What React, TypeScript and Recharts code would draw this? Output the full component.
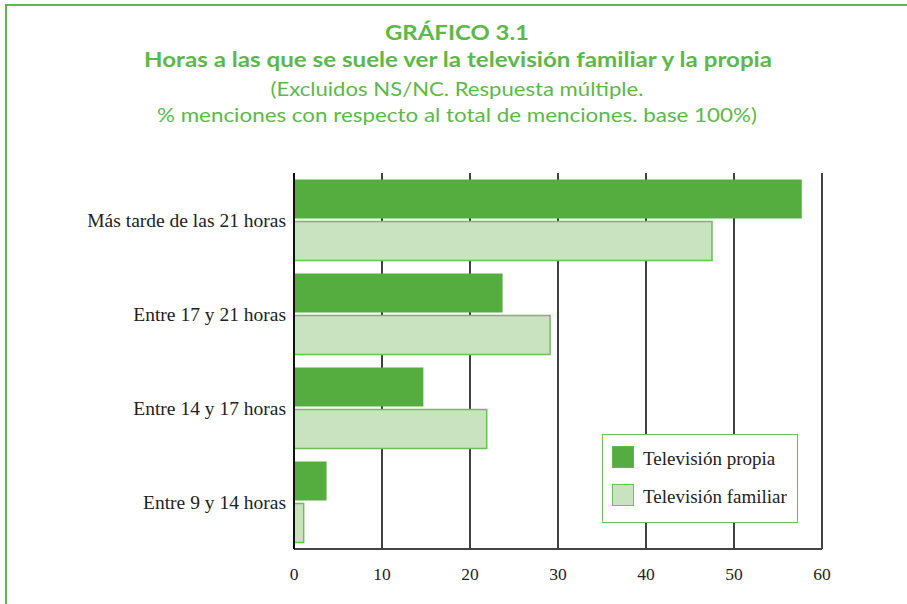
import React from 'react';
import { BarChart, Bar, XAxis, YAxis, CartesianGrid, Legend } from 'recharts';

const franjas = ['Más tarde de las 21 horas', 'Entre 17 y 21 horas', 'Entre 14 y 17 horas', 'Entre 9 y 14 horas'];
const tvPropia = [57.7, 23.7, 14.7, 3.7];
const tvFamiliar = [47.5, 29.1, 21.9, 1.1];
const xTicks = [0, 10, 20, 30, 40, 50, 60];

const GREEN = '#5cb849';
const DARK = '#55ad40';
const LIGHT = '#c9e2c0';
const LIGHT_EDGE = '#6cc05a';
const SERIF = '"Liberation Serif", "Times New Roman", serif';
const SANS = 'Lato, "Open Sans", sans-serif';

const data = franjas.map((f, i) => ({ franja: f, propia: tvPropia[i], familiar: tvFamiliar[i] }));

const seriesOrder = ['propia', 'familiar'];
const swatch: Record<string, { fill: string; stroke: string }> = {
  propia: { fill: DARK, stroke: '#62b84f' },
  familiar: { fill: LIGHT, stroke: LIGHT_EDGE },
};

const LegendBox = (props: any) => {
  const items = [...(props.payload || [])].sort(
    (a: any, b: any) => seriesOrder.indexOf(a.dataKey) - seriesOrder.indexOf(b.dataKey)
  );
  return (
    <div style={{ width: 196, height: 89, border: `1.5px solid ${LIGHT_EDGE}`, background: '#fff', boxSizing: 'border-box', padding: '11px 0 0 9px' }}>
      {items.map((it: any, i: number) => {
        const s = swatch[it.dataKey] || { fill: it.color, stroke: it.color };
        return (
          <div key={i} style={{ display: 'flex', alignItems: 'center', height: 22, marginBottom: 16 }}>
            <div style={{ width: 22, height: 22, background: s.fill, border: `1.5px solid ${s.stroke}`, boxSizing: 'border-box', flexShrink: 0 }} />
            <span style={{ fontFamily: SERIF, fontSize: 19, color: '#222', marginLeft: 9, marginTop: 3, whiteSpace: 'nowrap' }}>{it.value}</span>
          </div>
        );
      })}
    </div>
  );
};

export default function App() {
  return (
    <div style={{ position: 'absolute', left: 0, top: 0, width: 907, height: 604, background: '#fff', overflow: 'hidden' }}>
      <div style={{ position: 'absolute', left: 5, top: 4, width: 950, height: 700, borderTop: `2px solid ${GREEN}`, borderLeft: `2px solid ${GREEN}` }} />
      <svg width={907} height={140} style={{ position: 'absolute', left: 0, top: 0 }}>
        <g fill={GREEN} fontFamily={SANS} textAnchor="middle">
          <text x={457} y={40} fontSize={21} fontWeight="bold" textLength={144} lengthAdjust="spacingAndGlyphs">GRÁFICO 3.1</text>
          <text x={458} y={67} fontSize={21} fontWeight="bold" textLength={628} lengthAdjust="spacingAndGlyphs">Horas a las que se suele ver la televisión familiar y la propia</text>
          <text x={457} y={96} fontSize={20} textLength={373} lengthAdjust="spacingAndGlyphs">(Excluidos NS/NC. Respuesta múltiple.</text>
          <text x={457} y={122} fontSize={20} textLength={600} lengthAdjust="spacingAndGlyphs">% menciones con respecto al total de menciones. base 100%)</text>
        </g>
      </svg>
      <div style={{ position: 'absolute', left: 0, top: 0 }}>
        <BarChart
          width={907}
          height={604}
          data={data}
          layout="vertical"
          margin={{ top: 173, right: 85, bottom: 25, left: 0 }}
          barCategoryGap={6.5}
          barGap={3}
        >
          <CartesianGrid horizontal={false} stroke="#111" strokeWidth={1.6} />
          <XAxis
            type="number"
            domain={[0, 60]}
            ticks={xTicks}
            height={30}
            axisLine={{ stroke: '#444', strokeWidth: 2 }}
            tickLine={false}
            tickMargin={13}
            tick={{ fontFamily: SERIF, fontSize: 17.5, fill: '#222' }}
          />
          <XAxis
            xAxisId="top"
            orientation="top"
            type="number"
            domain={[0, 60]}
            height={0}
            tick={false}
            tickLine={false}
            axisLine={{ stroke: '#111', strokeWidth: 2 }}
          />
          <YAxis
            type="category"
            dataKey="franja"
            width={294}
            axisLine={{ stroke: '#111', strokeWidth: 2 }}
            tickLine={false}
            tick={{ fontFamily: SERIF, fontSize: 19.5, fill: '#222' }}
          />
          <Legend
            layout="vertical"
            verticalAlign="middle"
            align="center"
            content={LegendBox}
            wrapperStyle={{ left: 602, top: 434, width: 196 }}
          />
          <Bar dataKey="propia" name="Televisión propia" fill={DARK} isAnimationActive={false} />
          <Bar dataKey="familiar" name="Televisión familiar" fill={LIGHT} stroke={LIGHT_EDGE} strokeWidth={1.5} isAnimationActive={false} />
        </BarChart>
      </div>
    </div>
  );
}
